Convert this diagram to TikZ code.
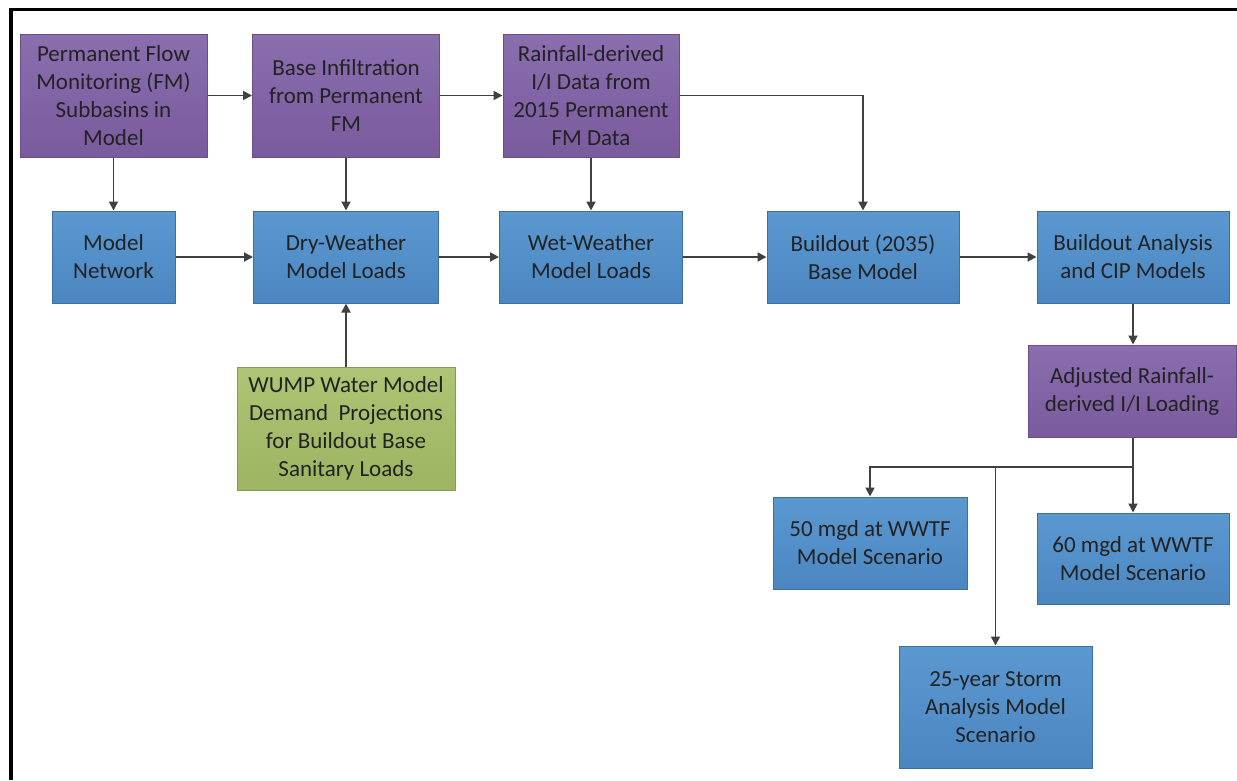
\documentclass[tikz,border=0pt]{standalone}
\usepackage{fontspec}
\setmainfont{Carlito}
\usetikzlibrary{arrows.meta}
\definecolor{purpT}{HTML}{8A6EAE}
\definecolor{purpB}{HTML}{7A5B9E}
\definecolor{purpD}{HTML}{6A4F8A}
\definecolor{blueT}{HTML}{5B98D0}
\definecolor{blueB}{HTML}{4B86C0}
\definecolor{blueD}{HTML}{3F6F9E}
\definecolor{grnT}{HTML}{ADC574}
\definecolor{grnB}{HTML}{9DB562}
\definecolor{grnD}{HTML}{85995A}
\definecolor{txt}{HTML}{222222}
\definecolor{arrc}{HTML}{404040}
\begin{document}
\begin{tikzpicture}[x=1pt,y=-1pt,
  basebox/.style={align=center, inner sep=0pt, line width=1pt, text=txt,
    font=\fontsize{23}{28}\selectfont},
  pbox/.style={basebox, draw=purpD, top color=purpT, bottom color=purpB},
  bbox/.style={basebox, draw=blueD, top color=blueT, bottom color=blueB},
  gbox/.style={basebox, draw=grnD, top color=grnT, bottom color=grnB},
  arr/.style={draw=arrc, line width=1.8pt, -{Triangle[length=9pt,width=9pt]}},
  ln/.style={draw=arrc, line width=1.8pt}]
\useasboundingbox (0,0) rectangle (1237,780);
\fill[white] (0,0) rectangle (1237,780);
% frame (top and left only)
\draw[line width=3.5pt, black] (11,780) -- (11,9.5) -- (1237,9.5);

% top row
\node[pbox, minimum width=187pt, minimum height=123pt] (pfm) at (113.5,95.5)
  {Permanent Flow\\Monitoring (FM)\\Subbasins in\\Model};
\node[pbox, minimum width=187pt, minimum height=123pt] (base) at (346,95.5)
  {Base Infiltration\\from Permanent\\FM};
\node[pbox, minimum width=176pt, minimum height=123pt] (rain) at (591,95.5)
  {Rainfall-derived\\I/I Data from\\2015 Permanent\\FM Data};

% middle row
\node[bbox, minimum width=123pt, minimum height=92pt] (mn) at (113.5,257)
  {Model\\Network};
\node[bbox, minimum width=185pt, minimum height=92pt] (dry) at (346,257)
  {Dry-Weather\\Model Loads};
\node[bbox, minimum width=183pt, minimum height=92pt] (wet) at (591,257)
  {Wet-Weather\\Model Loads};
\node[bbox, minimum width=192pt, minimum height=92pt] (bo) at (863,257)
  {Buildout (2035)\\Base Model};
\node[bbox, minimum width=192pt, minimum height=92pt] (ana) at (1133,257)
  {Buildout Analysis\\and CIP Models};

% green input
\node[gbox, minimum width=218pt, minimum height=123pt] (wump) at (346,428.5)
  {WUMP Water Model\\Demand\ \ Projections\\for Buildout Base\\Sanitary Loads};

% adjusted
\node[pbox, minimum width=208pt, minimum height=92pt] (adj) at (1132,391)
  {Adjusted Rainfall-\\derived I/I Loading};

% scenarios
\node[bbox, minimum width=194pt, minimum height=92pt] (s50) at (870,543)
  {50 mgd at WWTF\\Model Scenario};
\node[bbox, minimum width=192pt, minimum height=91pt] (s60) at (1133,558.5)
  {60 mgd at WWTF\\Model Scenario};
\node[bbox, minimum width=193pt, minimum height=122pt] (s25) at (995.5,707)
  {25-year Storm\\Analysis Model\\Scenario};

\coordinate (j) at (1133,467);

% connectors
\draw[arr] (pfm) -- (base);
\draw[arr] (base) -- (rain);
\draw[arr] (rain.east) -| (bo.north);
\draw[arr] (pfm) -- (mn);
\draw[arr] (base) -- (dry);
\draw[arr] (rain) -- (wet);
\draw[arr] (mn) -- (dry);
\draw[arr] (dry) -- (wet);
\draw[arr] (wet) -- (bo);
\draw[arr] (bo) -- (ana);
\draw[arr] (wump) -- (dry);
\draw[arr] (ana.south) -- (ana.south |- adj.north);
\draw[ln] (adj.south -| j) -- (j);
\draw[arr] (j) -| (s50.north);
\draw[arr] (j) -- (j |- s60.north);
\draw[arr] (j -| s25.north) -- (s25.north);
\end{tikzpicture}
\end{document}
